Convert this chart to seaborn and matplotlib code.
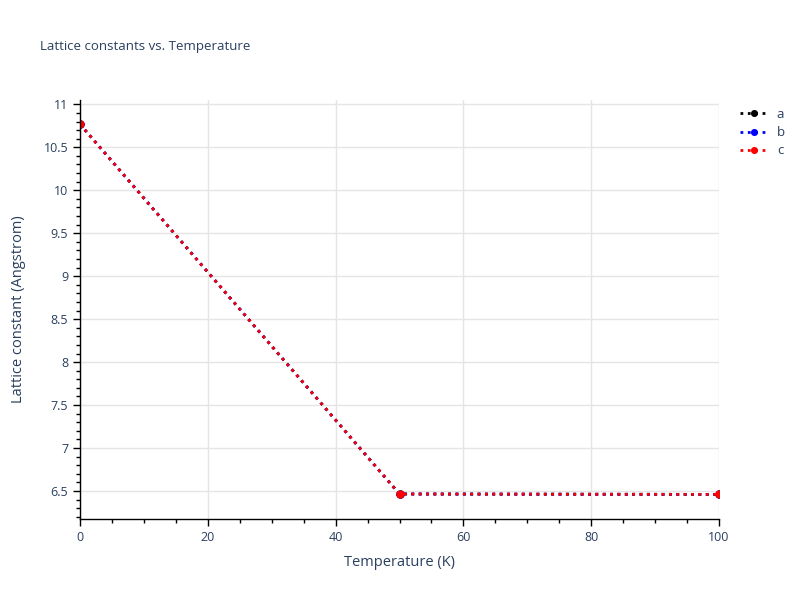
import matplotlib
matplotlib.use('Agg')
import matplotlib.pyplot as plt
from matplotlib.ticker import MultipleLocator
import seaborn as sns
import pandas as pd

# 데이터
temperature = [0, 50, 100]
lattice_a = [10.768, 6.465, 6.460]
lattice_b = [10.768, 6.465, 6.460]
lattice_c = [10.768, 6.465, 6.460]
series_names = ['a', 'b', 'c']
series_colors = ['black', 'blue', 'red']

df = pd.DataFrame({
    'Temperature': temperature * 3,
    'value': lattice_a + lattice_b + lattice_c,
    'series': [n for n in series_names for _ in temperature],
})

sns.set_style('white')
plt.rcParams['font.family'] = ['Open Sans', 'DejaVu Sans']
text_color = '#2a3f5f'

fig = plt.figure(figsize=(8, 6), dpi=100)
ax = fig.add_axes([0.1, 0.135, 0.79875, 0.6983])

for name, color in zip(series_names, series_colors):
    sub = df[df['series'] == name]
    sns.lineplot(data=sub, x='Temperature', y='value', ax=ax, color=color,
                 linestyle=':', linewidth=2, marker='o', markersize=6,
                 markeredgewidth=0, label=name)

ax.set_xlim(0, 100)
ax.set_ylim(6.174, 11.05)
ax.xaxis.set_major_locator(MultipleLocator(20))
ax.xaxis.set_minor_locator(MultipleLocator(5))
ax.yaxis.set_major_locator(MultipleLocator(0.5))
ax.yaxis.set_minor_locator(MultipleLocator(0.1))
ax.yaxis.set_major_formatter(matplotlib.ticker.FuncFormatter(lambda v, p: f'{v:g}'))

ax.grid(True, which='major', color='#e5e5e5', linewidth=1)
ax.set_axisbelow(True)
for s in ['top', 'right']:
    ax.spines[s].set_visible(False)
for s in ['left', 'bottom']:
    ax.spines[s].set_color('black')
    ax.spines[s].set_linewidth(1)
    ax.spines[s].set_zorder(5)
ax.tick_params(which='major', direction='out', length=5, width=1, color='black',
               labelsize=9, labelcolor=text_color, left=True, bottom=True)
ax.tick_params(which='minor', direction='out', length=3, width=1, color='black',
               left=True, bottom=True)

ax.set_xlabel('Temperature (K)', fontsize=10.5, color=text_color, labelpad=8)
ax.set_ylabel('Lattice constant (Angstrom)', fontsize=10.5, color=text_color, labelpad=13)

fig.text(0.05, 0.923, 'Lattice constants vs. Temperature', fontsize=9.5,
         color=text_color, va='center')

handles, labels = ax.get_legend_handles_labels()
ax.get_legend().remove()
fig.legend(handles, labels, loc='upper left', bbox_to_anchor=(0.91, 0.84),
           frameon=False, fontsize=9.5, labelcolor=text_color, handlelength=2.2,
           handletextpad=0.6, labelspacing=0.4, markerscale=0.85)

fig.savefig('out.png', dpi=100)
